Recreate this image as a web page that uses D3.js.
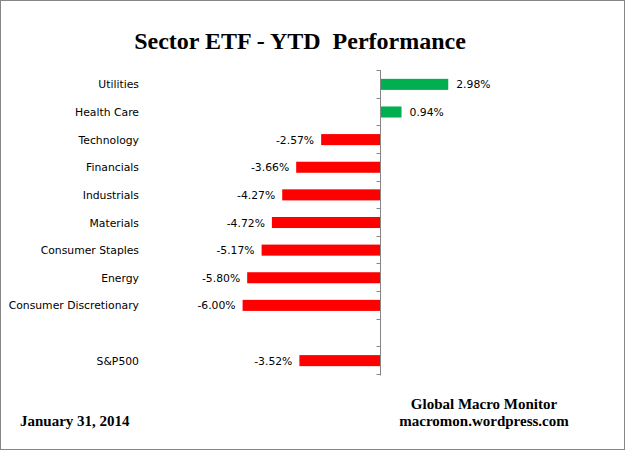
<!DOCTYPE html>
<html><head><meta charset="utf-8">
<script src="https://cdn.jsdelivr.net/npm/d3@7"></script>
<style>body{margin:0;background:#fff}svg{display:block}</style>
</head><body>
<script>
const categories = ["Utilities","Health Care","Technology","Financials","Industrials","Materials","Consumer Staples","Energy","Consumer Discretionary","","S&P500"];
const values = [2.98,0.94,-2.57,-3.66,-4.27,-4.72,-5.17,-5.80,-6.00,null,-3.52];
const labels = ["2.98%","0.94%","-2.57%","-3.66%","-4.27%","-4.72%","-5.17%","-5.80%","-6.00%","","-3.52%"];
const title = "Sector ETF - YTD\u00a0\u00a0Performance";
const dateText = "January 31, 2014";
const credit = ["Global Macro Monitor","macromon.wordpress.com"];

const W=626,H=455;
const svg=d3.select("body").append("svg").attr("width",W).attr("height",H);
svg.append("rect").attr("x",0.5).attr("y",0.5).attr("width",624).attr("height",449)
  .attr("fill","#fff").attr("stroke","#868686").attr("stroke-width",1);

const x=d3.scaleLinear().domain([-6,3]).range([380-137.4,380+68.7]);
const y=d3.scaleBand().domain(d3.range(categories.length)).range([70,375]).paddingInner(0.6).paddingOuter(0.32);
const step=y.step();

svg.append("text").attr("x",300).attr("y",49).attr("text-anchor","middle")
  .attr("font-family","Liberation Serif, serif").attr("font-weight","bold").attr("font-size",24)
  .text(title);

// bars
svg.selectAll("rect.bar").data(values.map((v,i)=>({v,i})).filter(d=>d.v!==null)).enter().append("rect")
  .attr("class","bar")
  .attr("x",d=>x(Math.min(0,d.v))).attr("width",d=>Math.abs(x(d.v)-x(0)))
  .attr("y",d=>y(d.i)).attr("height",y.bandwidth())
  .attr("fill",d=>d.v>=0?"#00B050":"#FF0000");

// axis
const ax=svg.append("g");
ax.append("line").attr("x1",x(0)+0.5).attr("x2",x(0)+0.5).attr("y1",70).attr("y2",375.5).attr("stroke","#868686");
ax.selectAll("line.t").data(d3.range(categories.length+1)).enter().append("line")
  .attr("x1",x(0)-3.5).attr("x2",x(0)+0.5)
  .attr("y1",i=>Math.round(70+i*step)+0.5).attr("y2",i=>Math.round(70+i*step)+0.5)
  .attr("stroke","#868686");

// category labels
svg.selectAll("text.cat").data(categories).enter().append("text")
  .attr("x",139).attr("y",(d,i)=>y(i)+y.bandwidth()/2+4).attr("text-anchor","end")
  .attr("font-family","DejaVu Sans, sans-serif").attr("font-size",10.8).attr("fill","#000")
  .text(d=>d);

// value labels
svg.selectAll("text.val").data(values.map((v,i)=>({v,i})).filter(d=>d.v!==null)).enter().append("text")
  .attr("x",d=>d.v>=0?x(d.v)+8:x(d.v)-7)
  .attr("y",d=>y(d.i)+y.bandwidth()/2+4)
  .attr("text-anchor",d=>d.v>=0?"start":"end")
  .attr("font-family","DejaVu Sans, sans-serif").attr("font-size",10.8)
  .text(d=>labels[d.i]);

svg.append("text").attr("x",20).attr("y",426)
  .attr("font-family","Liberation Serif, serif").attr("font-weight","bold").attr("font-size",15)
  .text(dateText);
svg.selectAll("text.cr").data(credit).enter().append("text")
  .attr("x",484).attr("y",(d,i)=>409+i*17).attr("text-anchor","middle")
  .attr("font-family","Liberation Serif, serif").attr("font-weight","bold").attr("font-size",15)
  .text(d=>d);
</script>
</body></html>
